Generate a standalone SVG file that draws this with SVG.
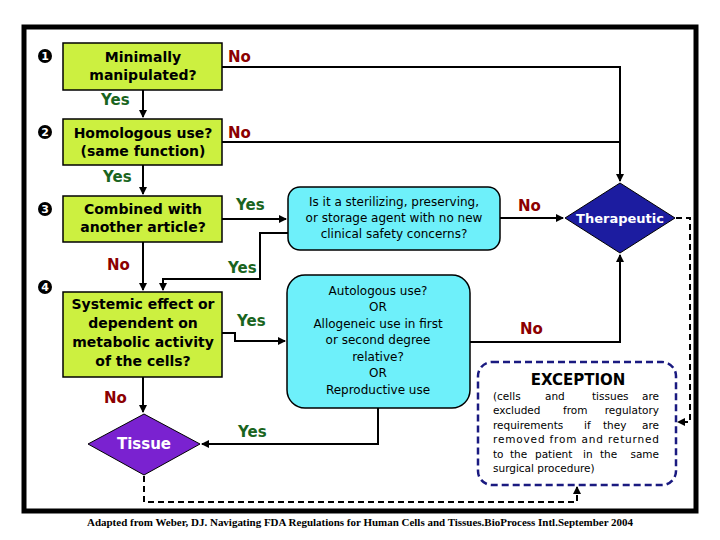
<svg xmlns="http://www.w3.org/2000/svg" width="720" height="540" viewBox="0 0 720 540">
<style>
.box{fill:#ccf040;stroke:#000;stroke-width:1.5}
.cy{fill:#6ef0fa;stroke:#000;stroke-width:1.5}
.t{font-family:"DejaVu Sans",sans-serif;font-weight:bold;font-size:14px;text-anchor:middle;fill:#000}
.c{font-family:"DejaVu Sans",sans-serif;font-size:12px;text-anchor:middle;fill:#000}
.no{font-family:"DejaVu Sans",sans-serif;font-weight:bold;font-size:15px;fill:#8b0000}
.yes{font-family:"DejaVu Sans",sans-serif;font-weight:bold;font-size:15px;fill:#1a6420}
.num{font-family:"DejaVu Sans",sans-serif;font-weight:bold;font-size:11px;fill:#fff;text-anchor:middle}
.ln{fill:none;stroke:#000;stroke-width:2}
.ds{fill:none;stroke:#000;stroke-width:2;stroke-dasharray:6,4}
.ex{font-family:"DejaVu Sans",sans-serif;font-size:10.5px;fill:#000}
</style>
<defs>
<marker id="a" markerWidth="8" markerHeight="8" refX="7" refY="4" orient="auto" markerUnits="userSpaceOnUse"><path d="M0,0L8,4L0,8z" fill="#000"/></marker>
</defs>
<rect width="720" height="540" fill="#fff"/>
<rect x="24" y="27" width="672" height="484" fill="none" stroke="#000" stroke-width="5"/>
<g id="numbers">
<circle cx="45" cy="56" r="7"/><text class="num" x="45" y="60">1</text>
<circle cx="45" cy="132" r="7"/><text class="num" x="45" y="136">2</text>
<circle cx="45" cy="209" r="7"/><text class="num" x="45" y="213">3</text>
<circle cx="45" cy="287" r="7"/><text class="num" x="45" y="291">4</text>
</g>
<g id="connectors">
<path class="ln" d="M143,90V117" marker-end="url(#a)"/>
<path class="ln" d="M143,165V194" marker-end="url(#a)"/>
<path class="ln" d="M143,242V290" marker-end="url(#a)"/>
<path class="ln" d="M143,377V412" marker-end="url(#a)"/>
<path class="ln" d="M222,67H620V181" marker-end="url(#a)"/>
<path class="ln" d="M222,142H620"/>
<path class="ln" d="M222,219H286" marker-end="url(#a)"/>
<path class="ln" d="M288,233H260V279H163V290" marker-end="url(#a)"/>
<path class="ln" d="M500,218H563" marker-end="url(#a)"/>
<path class="ln" d="M222,333H235V341H285" marker-end="url(#a)"/>
<path class="ln" d="M470,342H620V255" marker-end="url(#a)"/>
<path class="ln" d="M378,408V444H202" marker-end="url(#a)"/>
<path class="ds" d="M144,476V502H577V487" marker-end="url(#a)"/>
<path class="ds" d="M676,218H690V422H678" marker-end="url(#a)"/>
</g>
<g id="n1"><rect class="box" x="63" y="43" width="159" height="47"/>
<text class="t" x="143" y="62">Minimally</text><text class="t" x="143" y="80">manipulated?</text></g>
<g id="n2"><rect class="box" x="63" y="119" width="159" height="46"/>
<text class="t" x="143" y="138">Homologous use?</text><text class="t" x="143" y="156">(same function)</text></g>
<g id="n3"><rect class="box" x="63" y="196" width="159" height="46"/>
<text class="t" x="143" y="214">Combined with</text><text class="t" x="143" y="232">another article?</text></g>
<g id="n4"><rect class="box" x="63" y="292" width="159" height="85"/>
<text class="t" x="143" y="309">Systemic effect or</text><text class="t" x="143" y="328">dependent on</text><text class="t" x="143" y="347">metabolic activity</text><text class="t" x="143" y="366">of the cells?</text></g>
<g id="c1"><rect class="cy" x="288" y="187" width="212" height="63" rx="12"/>
<text class="c" x="394" y="206">Is it a sterilizing, preserving,</text><text class="c" x="394" y="222">or storage agent with no new</text><text class="c" x="394" y="238">clinical safety concerns?</text></g>
<g id="c2"><rect class="cy" x="287" y="275" width="183" height="133" rx="18"/>
<text class="c" x="378" y="295">Autologous use?</text><text class="c" x="378" y="311">OR</text><text class="c" x="378" y="328">Allogeneic use in first</text><text class="c" x="378" y="344">or second degree</text><text class="c" x="378" y="361">relative?</text><text class="c" x="378" y="377">OR</text><text class="c" x="378" y="394">Reproductive use</text></g>
<g id="therapeutic"><path d="M620,183L675,218L620,253L565,218z" fill="#1c1ca0" stroke="#000" stroke-width="1"/>
<text class="t" x="620" y="223" style="fill:#fff;font-size:13px">Therapeutic</text></g>
<g id="tissue"><path d="M144,414L200,444L144,475L88,444z" fill="#7a22d0" stroke="#000" stroke-width="1"/>
<text class="t" x="144" y="449" style="fill:#fff;font-size:15px">Tissue</text></g>
<g id="exception"><rect x="478" y="362" width="198" height="123" rx="14" fill="none" stroke="#1a1a80" stroke-width="2.5" stroke-dasharray="7,4"/>
<text x="578" y="385" style="font-family:'DejaVu Sans',sans-serif;font-size:15px;font-weight:bold;text-anchor:middle;fill:#000">EXCEPTION</text>
<text class="ex" x="493" y="400">(cells</text><text class="ex" x="545" y="400">and</text><text class="ex" x="592" y="400">tissues</text><text class="ex" x="659" y="400" text-anchor="end">are</text>
<text class="ex" x="493" y="414">excluded</text><text class="ex" x="563" y="414">from</text><text class="ex" x="659" y="414" text-anchor="end">regulatory</text>
<text class="ex" x="493" y="429">requirements</text><text class="ex" x="584" y="429">if</text><text class="ex" x="603" y="429">they</text><text class="ex" x="659" y="429" text-anchor="end">are</text>
<text class="ex" x="493" y="443" textLength="166" lengthAdjust="spacing">removed from and returned</text>
<text class="ex" x="493" y="458">to</text><text class="ex" x="510" y="458">the</text><text class="ex" x="535" y="458">patient</text><text class="ex" x="583" y="458">in</text><text class="ex" x="600" y="458">the</text><text class="ex" x="659" y="458" text-anchor="end">same</text>
<text class="ex" x="493" y="472">surgical procedure)</text></g>
<g id="labels">
<text class="no" x="228" y="62">No</text>
<text class="yes" x="101" y="105">Yes</text>
<text class="no" x="228" y="138">No</text>
<text class="yes" x="103" y="182">Yes</text>
<text class="yes" x="236" y="210">Yes</text>
<text class="no" x="107" y="270">No</text>
<text class="yes" x="228" y="273">Yes</text>
<text class="yes" x="237" y="326">Yes</text>
<text class="no" x="104" y="403">No</text>
<text class="yes" x="238" y="437">Yes</text>
<text class="no" x="518" y="211">No</text>
<text class="no" x="520" y="334">No</text>
</g>
<text x="360" y="526" style="font-family:'Liberation Serif',serif;font-weight:bold;font-size:11px;text-anchor:middle" textLength="546" lengthAdjust="spacingAndGlyphs">Adapted from Weber, DJ. Navigating FDA Regulations for Human Cells and Tissues.BioProcess Intl.September 2004</text>
</svg>
